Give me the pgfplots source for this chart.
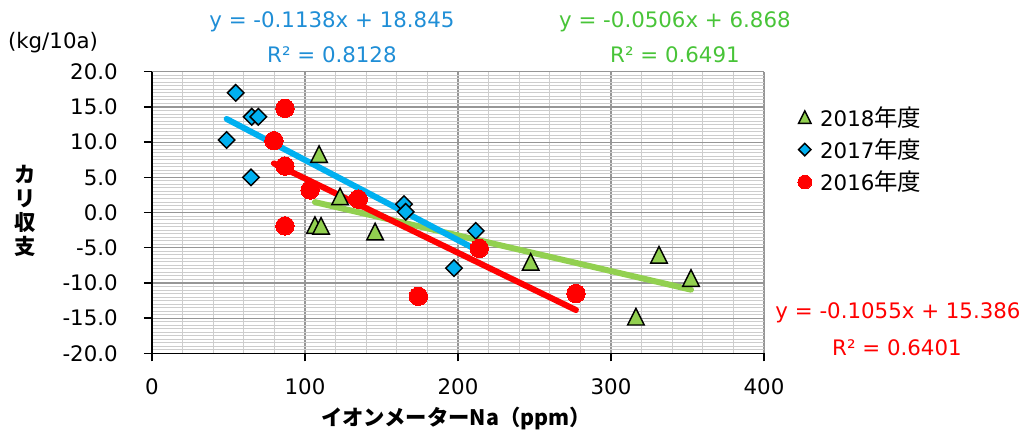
\documentclass[border=0pt]{standalone}
\usepackage{fontspec}
\setmainfont{DejaVu Sans}
\newfontfamily\jp{Noto Sans CJK JP}
\newfontfamily\jpl{Noto Sans CJK JP}[Scale=1.1]
\usepackage{pgfplots}
\pgfplotsset{compat=1.18}

\definecolor{xlgreen}{RGB}{146,208,80}
\definecolor{xlblue}{RGB}{0,176,240}
\definecolor{xlred}{RGB}{255,0,0}
\definecolor{eqblue}{RGB}{31,142,214}
\definecolor{eqgreen}{RGB}{72,196,56}
\definecolor{majgrid}{RGB}{150,150,150}
\definecolor{mingrid}{RGB}{205,205,205}

\newcommand\fs{\fontsize{16}{19}\selectfont}

% isosceles triangle, as wide as it is tall, centred on its box
\pgfdeclareplotmark{xltriangle}{%
  \pgfpathmoveto{\pgfqpoint{0pt}{\pgfplotmarksize}}%
  \pgfpathlineto{\pgfqpoint{\pgfplotmarksize}{-\pgfplotmarksize}}%
  \pgfpathlineto{\pgfqpoint{-\pgfplotmarksize}{-\pgfplotmarksize}}%
  \pgfpathclose
  \pgfusepathqfillstroke
}
% square diamond
\pgfdeclareplotmark{xldiamond}{%
  \pgfpathmoveto{\pgfqpoint{0pt}{\pgfplotmarksize}}%
  \pgfpathlineto{\pgfqpoint{\pgfplotmarksize}{0pt}}%
  \pgfpathlineto{\pgfqpoint{0pt}{-\pgfplotmarksize}}%
  \pgfpathlineto{\pgfqpoint{-\pgfplotmarksize}{0pt}}%
  \pgfpathclose
  \pgfusepathqfillstroke
}

% measured values: x = ion meter Na (ppm), y = potassium balance (kg/10a)
\pgfplotstableread{
x y
106.5 -1.8
109.2 8.3
110.5 -1.9
122.9 2.3
145.8 -2.7
247.5 -7.0
316.3 -14.8
331.4 -6.0
352.3 -9.3
}\yrA
\pgfplotstableread{
x y
48.8 10.3
54.7 17.0
64.7 5.0
65.2 13.6
69.5 13.6
164.7 1.2
165.8 0.1
197.4 -7.9
211.6 -2.6
}\yrB
\pgfplotstableread{
x y
79.7 10.2
86.9 14.8
86.9 6.6
86.9 -1.9
103.3 3.2
134.8 1.9
174.1 -11.9
213.9 -5.1
277.1 -11.5
}\yrC

\begin{document}
\begin{tikzpicture}
\useasboundingbox (-114pt,-57.5pt) rectangle (651.75pt,265pt);
\begin{axis}[
  at={(0,0)}, anchor=south west,
  scale only axis, width=459pt, height=211.2pt,
  xmin=0, xmax=400, ymin=-20, ymax=20,
  xtick={0,100,...,400}, xticklabels={0,100,200,300,400},
  ytick={-20,-15,...,20},
  yticklabels={-20.0,-15.0,-10.0,-5.0,0.0,5.0,10.0,15.0,20.0},
  minor x tick num=4, minor y tick num=9,
  grid=both,
  major grid style={majgrid, line width=0.9pt},
  minor grid style={mingrid, line width=0.7pt},
  axis lines=left,
  axis line style={-, black, line width=1.1pt},
  tick align=outside, major tick length=6pt, minor tick length=0pt,
  major tick style={black, line width=1.1pt},
  tick label style={font=\fs},
  yticklabel style={anchor=east, inner sep=0pt, xshift=-19.5pt},
  xticklabel style={anchor=north, inner sep=0pt, yshift=-12.7pt},
  xlabel={\jp\bfseries イオンメーターNa（ppm）},
  xlabel style={at={(axis description cs:0.4967,-0.2298)}, anchor=center, font=\fs},
  ylabel={\jp\bfseries カ\\ \jp\bfseries リ\\ \jp\bfseries 収\\ \jp\bfseries 支},
  ylabel style={at={(axis description cs:-0.2075,0.5053)}, anchor=center,
    rotate=-90, align=center, font=\fontsize{16}{18}\selectfont},
  clip=false,
  legend style={draw=none, fill=none, font=\fs,
    at={(axis description cs:1.055,0.888)}, anchor=north west,
    row sep=4pt, inner sep=0pt},
  legend cell align=left,
  legend image code/.code={%
    \path[draw=none, fill=none] (0.3cm,0cm) ++(-5pt,0pt) ++(14.5pt,0pt);
    \draw[mark repeat=2,mark phase=2,#1,
      every mark/.append style={scale=0.75}]
      plot coordinates {(0cm,0cm) (0.3cm,0cm) (0.6cm,0cm)};},
]
% markers
\addplot[only marks, mark=xltriangle, mark size=6.2pt,
  mark options={fill=xlgreen, draw=black, line width=1.1pt}] table {\yrA};
\addlegendentry{2018{\jpl 年度}}
\addplot[only marks, mark=xldiamond, mark size=6.2pt,
  mark options={fill=xlblue, draw=black, line width=1.1pt}] table {\yrB};
\addlegendentry{2017{\jpl 年度}}
\addplot[xlred, only marks, mark=*, mark size=6.9pt,
  mark options={fill=xlred, draw=xlred, line width=0pt}] table {\yrC};
\addlegendentry{2016{\jpl 年度}}

% linear trend lines, drawn across each series' x range
\addplot[forget plot, xlgreen, line width=4.5pt, line cap=round]
  coordinates {(106.5,1.479) (352.3,-10.958)};
\addplot[forget plot, xlred, line width=4.5pt, line cap=round]
  coordinates {(79.7,6.978) (277.1,-13.848)};
\addplot[forget plot, xlblue, line width=4.5pt, line cap=round]
  coordinates {(48.8,13.292) (211.6,-5.235)};

% trend line equations
\node[font=\fs, text=eqblue] at (axis cs:117.6,27.1) {y = -0.1138x + 18.845};
\node[font=\fs, text=eqblue] at (axis cs:117.6,22.37) {R² = 0.8128};
\node[font=\fs, text=eqgreen] at (axis cs:341.8,27.1) {y = -0.0506x + 6.868};
\node[font=\fs, text=eqgreen] at (axis cs:341.8,22.37) {R² = 0.6491};
\node[font=\fs, text=xlred] at (axis cs:487.6,-14.28) {y = -0.1055x + 15.386};
\node[font=\fs, text=xlred] at (axis cs:486.9,-19.25) {R² = 0.6401};
% unit of the y axis
\node[font=\fs] at (axis cs:-64.7,24.2) {(kg/10a)};
\end{axis}
\end{tikzpicture}
\end{document}
